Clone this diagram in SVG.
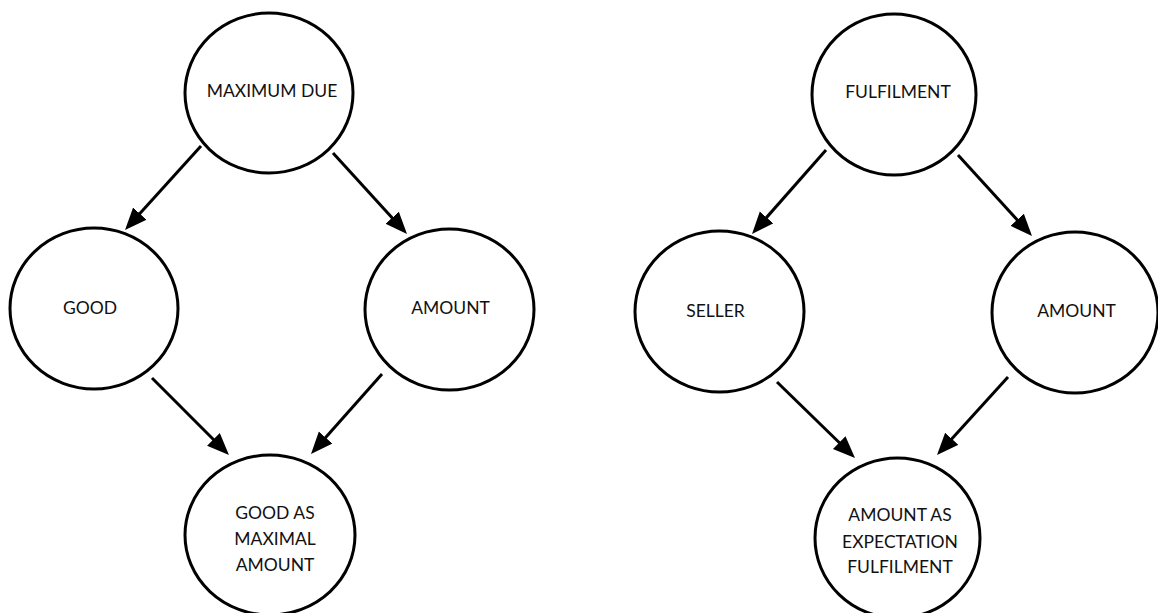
<svg xmlns="http://www.w3.org/2000/svg" width="1158" height="613" viewBox="0 0 1158 613">
<style>
.node ellipse{fill:#fff;stroke:#000;stroke-width:3}
.node text{font-family:"Lato","Open Sans",sans-serif;font-size:17.5px;fill:#111;text-anchor:middle}
.conn line{stroke:#000;stroke-width:3;marker-end:url(#ah)}
</style>
<defs>
<marker id="ah" markerUnits="userSpaceOnUse" markerWidth="24" markerHeight="20" refX="11" refY="9" orient="auto" viewBox="0 0 24 20">
<path d="M0,0 L22,9 L0,18 z" fill="#000"/>
</marker>
</defs>
<rect width="1158" height="613" fill="#fff"/>
<g class="conn">
<line x1="201" y1="146" x2="132.4" y2="221.8"/>
<line x1="333" y1="153" x2="399.6" y2="225.9"/>
<line x1="152" y1="378" x2="221.2" y2="447.2"/>
<line x1="382" y1="374" x2="318.3" y2="445.8"/>
<line x1="826" y1="150" x2="759.3" y2="225.7"/>
<line x1="958" y1="155" x2="1024.6" y2="227.9"/>
<line x1="777" y1="382" x2="847.1" y2="450.3"/>
<line x1="1008" y1="377" x2="944.4" y2="446.9"/>
</g>
<g id="n1" class="node"><ellipse cx="269" cy="93" rx="84" ry="80"/><text x="272" y="97">MAXIMUM DUE</text></g>
<g id="n2" class="node"><ellipse cx="94" cy="308.5" rx="84" ry="80.5"/><text x="90" y="314">GOOD</text></g>
<g id="n3" class="node"><ellipse cx="449.5" cy="309.5" rx="84.5" ry="80.5"/><text x="450.5" y="314">AMOUNT</text></g>
<g id="n4" class="node"><ellipse cx="270" cy="535" rx="85" ry="80"/><text x="275" y="519">GOOD AS</text><text x="275" y="545">MAXIMAL</text><text x="275" y="571">AMOUNT</text></g>
<g id="n5" class="node"><ellipse cx="894" cy="94.5" rx="82" ry="80.5"/><text x="898" y="98">FULFILMENT</text></g>
<g id="n6" class="node"><ellipse cx="719.5" cy="311.5" rx="84.5" ry="80.5"/><text x="715.5" y="317">SELLER</text></g>
<g id="n7" class="node"><ellipse cx="1075" cy="312.5" rx="83" ry="80.5"/><text x="1076.5" y="317">AMOUNT</text></g>
<g id="n8" class="node"><ellipse cx="897.5" cy="538" rx="82.5" ry="80"/><text x="900" y="521">AMOUNT AS</text><text x="900" y="548">EXPECTATION</text><text x="900" y="573">FULFILMENT</text></g>
</svg>
